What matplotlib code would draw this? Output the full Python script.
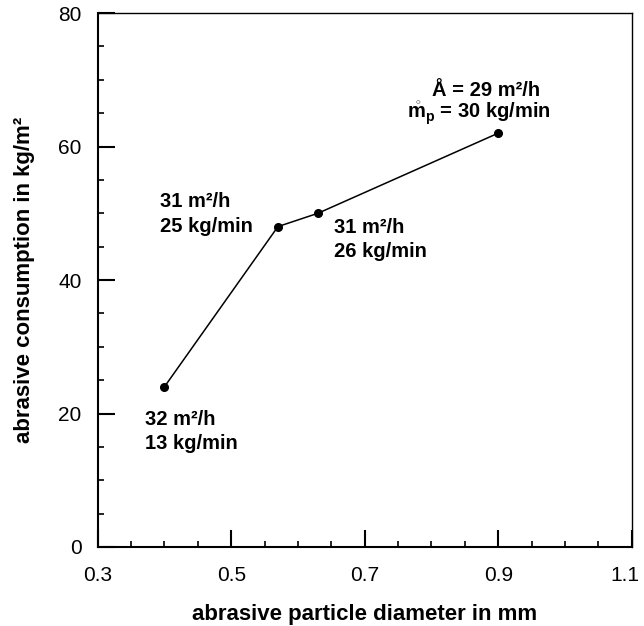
import numpy as np
import matplotlib
matplotlib.use('Agg')
import matplotlib.pyplot as plt
import matplotlib.transforms as mtransforms
from matplotlib.ticker import MultipleLocator, FixedLocator

plt.rcParams['font.family'] = ['Liberation Sans', 'DejaVu Sans']
plt.rcParams['mathtext.fontset'] = 'custom'
plt.rcParams['mathtext.rm'] = 'Liberation Sans:bold'
plt.rcParams['mathtext.bf'] = 'Liberation Sans:bold'
plt.rcParams['mathtext.it'] = 'Liberation Sans:bold'

# data
diameter = [0.40, 0.57, 0.63, 0.90]
consumption = [24, 48, 50, 62]
labels = ['32 m²/h\n13 kg/min',
          '31 m²/h\n25 kg/min',
          '31 m²/h\n26 kg/min']
xticks = [0.3, 0.5, 0.7, 0.9, 1.1]

fig = plt.figure(figsize=(6.44, 6.26), dpi=100)
ax = fig.add_axes([0.1517, 0.1262, 0.8292, 0.8530])

ax.plot(diameter, consumption, color='black', lw=1.1, marker='o', ms=5.5)

ax.set_xlim(0.3, 1.1)
ax.set_ylim(0, 80)
ax.xaxis.set_major_locator(FixedLocator(xticks))
ax.xaxis.set_minor_locator(FixedLocator(np.arange(0.35, 1.1, 0.05)))
ax.yaxis.set_major_locator(MultipleLocator(20))
ax.yaxis.set_minor_locator(MultipleLocator(5))
ax.xaxis.set_major_formatter(plt.FuncFormatter(lambda v, p: '%.1f' % v))
ax.tick_params(which='major', direction='in', length=12, width=1.5, labelsize=15)
ax.tick_params(which='minor', direction='in', length=4.5, width=1.2)
ax.tick_params(axis='x', pad=13.5)
ax.tick_params(axis='y', pad=11.5)

for s in ['top', 'right']:
    ax.spines[s].set_linewidth(1.0)
for s in ['left', 'bottom']:
    ax.spines[s].set_linewidth(1.5)

ax.set_xlabel('abrasive particle diameter in mm', fontsize=16, fontweight='bold', labelpad=14)
ax.set_ylabel('abrasive consumption in kg/m²', fontsize=16, fontweight='bold', labelpad=17)

# nudge the last x tick label so it stays inside the figure
last = ax.xaxis.get_major_ticks()[-1].label1
last.set_transform(last.get_transform() + mtransforms.ScaledTranslation(-5 / 72, 0, fig.dpi_scale_trans))

# annotations next to points
offsets = [(-14, -32), (-85, 9), (11.5, -19)]
for i in range(3):
    ax.annotate(labels[i], (diameter[i], consumption[i]), xytext=offsets[i],
                textcoords='offset points', fontsize=14.5, fontweight='bold',
                ha='left', va='center', linespacing=1.35)

ax.annotate('Å = 29 m²/h', (diameter[3], consumption[3]), xytext=(-9, 31),
            textcoords='offset points', fontsize=14.5, fontweight='bold', ha='center', va='center')
ax.annotate(r'$\mathring{m}_\mathrm{p}$' + ' = 30 kg/min', (diameter[3], consumption[3]),
            xytext=(-14, 14), textcoords='offset points', fontsize=14.5, fontweight='bold',
            ha='center', va='center')

fig.savefig('out.png', dpi=100)
